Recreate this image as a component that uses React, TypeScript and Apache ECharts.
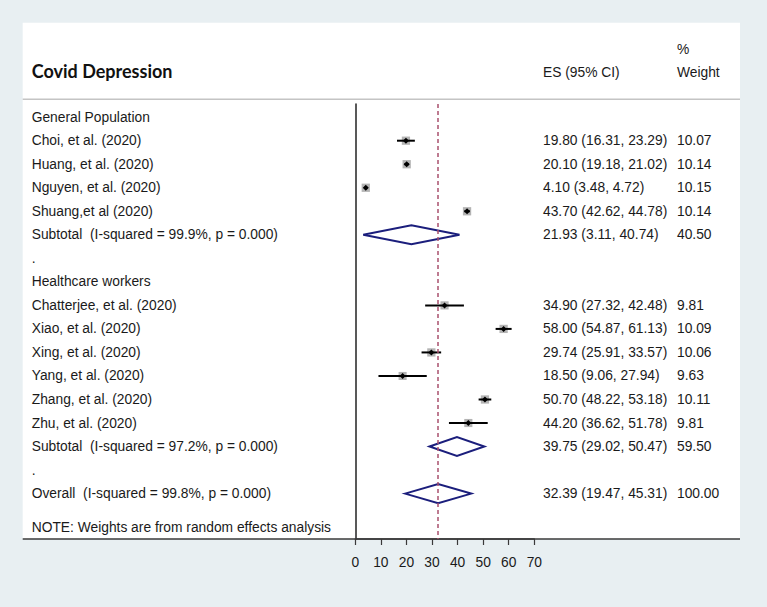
import React, { useEffect, useRef } from "react";
import * as echarts from "echarts";

// ---------- data ----------
const rowLabels = [
  "General Population",
  "Choi, et al. (2020)",
  "Huang, et al. (2020)",
  "Nguyen, et al. (2020)",
  "Shuang,et al (2020)",
  "Subtotal  (I-squared = 99.9%, p = 0.000)",
  ".",
  "Healthcare workers",
  "Chatterjee, et al. (2020)",
  "Xiao, et al. (2020)",
  "Xing, et al. (2020)",
  "Yang, et al. (2020)",
  "Zhang, et al. (2020)",
  "Zhu, et al. (2020)",
  "Subtotal  (I-squared = 97.2%, p = 0.000)",
  ".",
  "Overall  (I-squared = 99.8%, p = 0.000)",
];
const rowKinds = [
  "group", "study", "study", "study", "study", "pooled", "blank",
  "group", "study", "study", "study", "study", "study", "study", "pooled", "blank",
  "pooled",
];
const esValues = [null, 19.8, 20.1, 4.1, 43.7, 21.93, null, null, 34.9, 58.0, 29.74, 18.5, 50.7, 44.2, 39.75, null, 32.39];
const lowerCI = [null, 16.31, 19.18, 3.48, 42.62, 3.11, null, null, 27.32, 54.87, 25.91, 9.06, 48.22, 36.62, 29.02, null, 19.47];
const upperCI = [null, 23.29, 21.02, 4.72, 44.78, 40.74, null, null, 42.48, 61.13, 33.57, 27.94, 53.18, 51.78, 50.47, null, 45.31];
const weights = [null, 10.07, 10.14, 10.15, 10.14, 40.5, null, null, 9.81, 10.09, 10.06, 9.63, 10.11, 9.81, 59.5, null, 100.0];
const overallES = 32.39;
const xMin = 0;
const xMax = 70;
const xStep = 10;
const titleText = "Covid Depression";
const esHeader = "ES (95% CI)";
const weightHeader1 = "%";
const weightHeader2 = "Weight";
const noteText = "NOTE: Weights are from random effects analysis";

const FONT = "'Liberation Sans', Arial, sans-serif";
const TEXT_COLOR = "#1a1a1a";
const FS = 13.8;

export default function App() {
  const ref = useRef<HTMLDivElement>(null);
  useEffect(() => {
    if (!ref.current) return;
    const chart = echarts.init(ref.current, null, { renderer: "svg" });
    const fmt = (v: number) => v.toFixed(2);

    const option: any = {
      animation: false,
      backgroundColor: "transparent",
      grid: { left: 355.3, width: 179, top: 104, height: 435, containLabel: false },
      xAxis: {
        type: "value",
        position: "bottom",
        min: xMin,
        max: xMax,
        interval: xStep,
        axisLine: { show: true, onZero: false, lineStyle: { color: "#3a3a3a", width: 1.5 } },
        axisTick: { show: true, length: 6, lineStyle: { color: "#3a3a3a", width: 1.2 } },
        axisLabel: { color: TEXT_COLOR, fontSize: FS, fontFamily: FONT, margin: 16 },
        splitLine: { show: false },
      },
      yAxis: {
        type: "value",
        inverse: true,
        min: -0.56,
        max: 17.93,
        axisLine: { show: true, onZero: false, lineStyle: { color: "#222", width: 1.5 } },
        axisTick: { show: false },
        axisLabel: { show: false },
        splitLine: { show: false },
      },
      graphic: [
        { type: "rect", z: -10, shape: { x: 22.7, y: 22.7, width: 717.3, height: 516.3 }, style: { fill: "#ffffff" } },
        { type: "line", z: 1, shape: { x1: 22.7, y1: 99.3, x2: 740, y2: 99.3 }, style: { stroke: "#c4c4c4", lineWidth: 1.5 } },
        { type: "line", z: 1, shape: { x1: 22.7, y1: 539, x2: 740, y2: 539 }, style: { stroke: "#3a3a3a", lineWidth: 1.5 } },
        { type: "text", x: 31.7, y: 71, style: { text: titleText, fill: "#111", fontSize: 18, fontWeight: "bold", fontFamily: "Lato, 'Open Sans', sans-serif", textVerticalAlign: "middle", textAlign: "left" } },
        { type: "text", x: 543, y: 72, style: { text: esHeader, fill: TEXT_COLOR, fontSize: FS, fontFamily: FONT, textVerticalAlign: "middle", textAlign: "left" } },
        { type: "text", x: 677, y: 49, style: { text: weightHeader1, fill: TEXT_COLOR, fontSize: FS, fontFamily: FONT, textVerticalAlign: "middle", textAlign: "left" } },
        { type: "text", x: 677, y: 72, style: { text: weightHeader2, fill: TEXT_COLOR, fontSize: FS, fontFamily: FONT, textVerticalAlign: "middle", textAlign: "left" } },
        { type: "text", x: 31.7, y: 527, style: { text: noteText, fill: TEXT_COLOR, fontSize: FS, fontFamily: FONT, textVerticalAlign: "middle", textAlign: "left" } },
      ],
      series: [
        {
          type: "custom",
          clip: false,
          data: rowLabels.map((_, i) => [esValues[i] ?? 0, i]),
          encode: { x: 0, y: 1 },
          renderItem: (params: any, api: any) => {
            const i = params.dataIndex;
            const y = api.coord([0, i])[1];
            const px = (v: number) => api.coord([v, i])[0];
            const children: any[] = [];
            children.push({
              type: "text",
              x: 31.7,
              y,
              style: { text: rowLabels[i], fill: TEXT_COLOR, fontSize: FS, fontFamily: FONT, textAlign: "left", textVerticalAlign: "middle" },
            });
            const es = esValues[i];
            const lo = lowerCI[i];
            const hi = upperCI[i];
            const w = weights[i];
            if (es != null && lo != null && hi != null && w != null) {
              children.push({
                type: "text",
                x: 543,
                y,
                style: { text: `${fmt(es)} (${fmt(lo)}, ${fmt(hi)})`, fill: TEXT_COLOR, fontSize: FS, fontFamily: FONT, textAlign: "left", textVerticalAlign: "middle" },
              });
              children.push({
                type: "text",
                x: 677,
                y,
                style: { text: fmt(w), fill: TEXT_COLOR, fontSize: FS, fontFamily: FONT, textAlign: "left", textVerticalAlign: "middle" },
              });
              if (rowKinds[i] === "study") {
                const s = 2.6 * Math.sqrt(w);
                const cx = px(es);
                children.push({ type: "rect", shape: { x: cx - s / 2, y: y - s / 2, width: s, height: s }, style: { fill: "#b4b4b4" } });
                children.push({ type: "line", shape: { x1: px(lo), y1: y, x2: px(hi), y2: y }, style: { stroke: "#000", lineWidth: 2 } });
                const d = 3;
                children.push({
                  type: "polygon",
                  shape: { points: [[cx - d, y], [cx, y - d], [cx + d, y], [cx, y + d]] },
                  style: { fill: "#000" },
                });
              } else if (rowKinds[i] === "pooled") {
                const h = 9.5;
                children.push({
                  type: "polygon",
                  shape: { points: [[px(lo), y], [px(es), y - h], [px(hi), y], [px(es), y + h]] },
                  style: { fill: "none", stroke: "#1b1e7c", lineWidth: 2 },
                });
              }
            }
            return { type: "group", children };
          },
          markLine: {
            silent: true,
            symbol: "none",
            label: { show: false },
            lineStyle: { type: [4, 3], color: "#a9506e", width: 1.5 },
            data: [{ xAxis: overallES }],
          },
          z: 3,
        },
      ],
    };
    chart.setOption(option);
    return () => chart.dispose();
  }, []);
  return (
    <div
      ref={ref}
      style={{ position: "absolute", left: 0, top: 0, width: 767, height: 607, background: "#e8eff2" }}
    />
  );
}
